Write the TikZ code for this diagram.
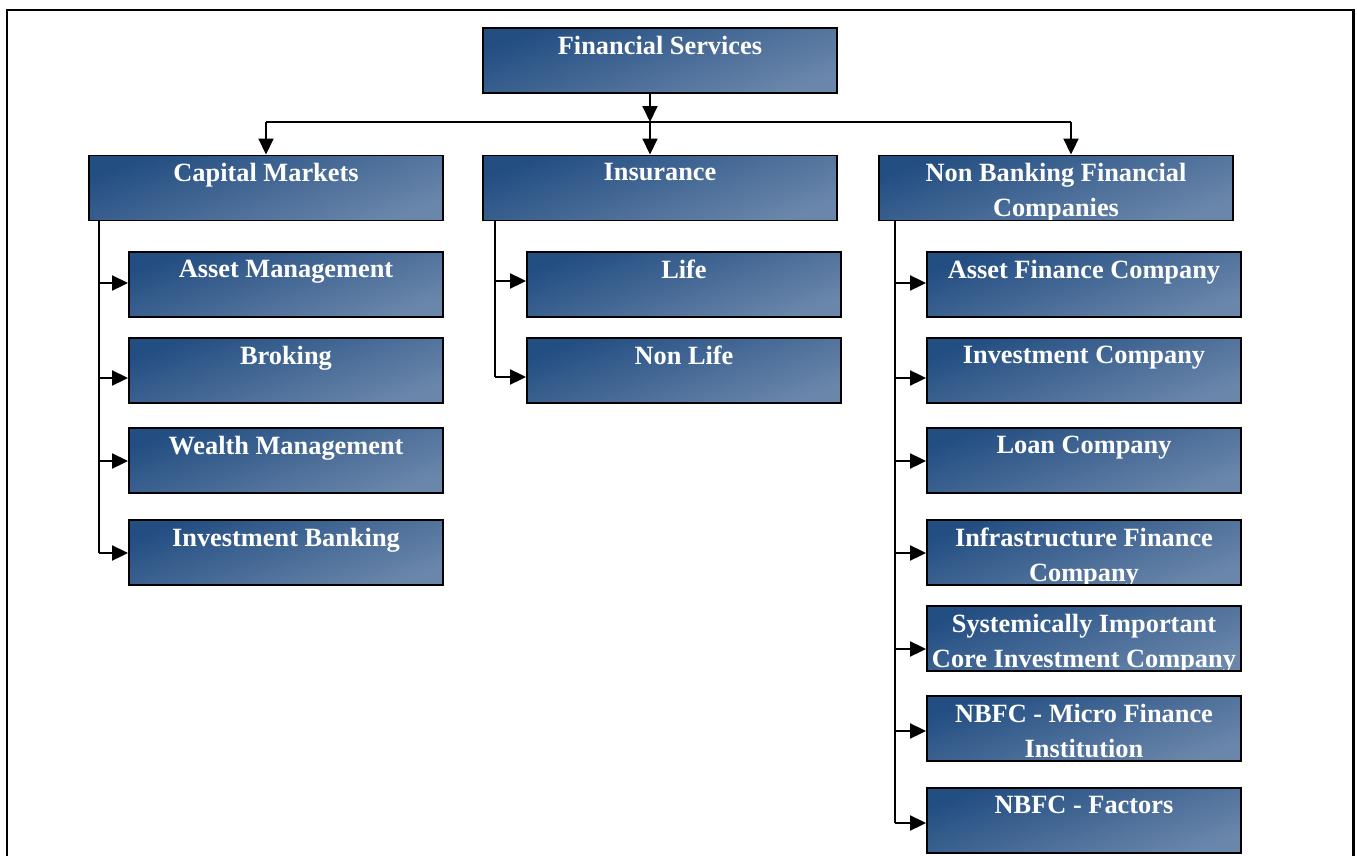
\documentclass[tikz,border=0pt]{standalone}
\usepackage{fontspec}
\setmainfont{Liberation Serif}
\usepackage{tikz}
\usetikzlibrary{arrows.meta}

\definecolor{boxdark}{RGB}{35,78,130}
\definecolor{boxlight}{RGB}{106,134,170}
\newcommand{\chartfont}{\fontsize{15}{19.8}\selectfont\bfseries}

\begin{document}
\begin{tikzpicture}[x=0.02cm, y=-0.02cm,
	box/.style={draw, line width=1.1pt, minimum height=1.3cm, inner sep=0pt,
		top color=boxdark, bottom color=boxlight, shading angle=20,
		path picture={\node[anchor=north, inner sep=0pt, minimum width=0pt, minimum height=0pt,
			text=white, align=center, font=\chartfont]
			at ([yshift=-0.14cm]path picture bounding box.north) {#1};}},
	mainbox/.style={box={#1}, minimum width=7.08cm},
	subbox/.style={box={#1}, minimum width=6.28cm},
	wire/.style={line width=1.1pt},
	link/.style={wire, -{Triangle[length=0.32cm, width=0.3cm]}}]

		\useasboundingbox (0,0) rectangle (1357,856);
		\draw[line width=1.7pt] (7,856) -- (7,10) -- (1353,10) -- (1353,856); % frame

		\begin{scope}
			\node[mainbox={Financial Services}] (fs) at (660,60.5) {};

			\node[mainbox={Capital Markets}] (cap) at (266,188) {};
			\node[mainbox={Insurance}] (ins) at (660,188) {};
			\node[mainbox={Non Banking Financial\\Companies}] (nbfc) at (1056,188) {};

			\node[subbox={Asset Management}] (am) at (286,284.5) {};
			\node[subbox={Broking}] (brk) at (286,370.5) {};
			\node[subbox={Wealth Management}] (wm) at (286,460.5) {};
			\node[subbox={Investment Banking}] (ib) at (286,552.5) {};

			\node[subbox={Life}] (life) at (684,284.5) {};
			\node[subbox={Non Life}] (nlife) at (684,370.5) {};

			\node[subbox={Asset Finance Company}] (afc) at (1084,284.5) {};
			\node[subbox={Investment Company}] (ic) at (1084,370.5) {};
			\node[subbox={Loan Company}] (lc) at (1084,460.5) {};
			\node[subbox={Infrastructure Finance\\Company}] (ifc) at (1084,552.5) {};
			\node[subbox={Systemically Important\\Core Investment Company}] (sic) at (1084,638.5) {};
			\node[subbox={NBFC - Micro Finance\\Institution}] (mfi) at (1084,728.5) {};
			\node[subbox={NBFC - Factors}] (fac) at (1084,820.5) {};

			\coordinate (split) at (650,122);
			\coordinate (nbfcin) at (1071,122);
			\draw[link] (fs.south -| split) -- (split); % top to bus
			\draw[wire] (cap.north |- split) -- (nbfcin); % bus
			\draw[link] (cap.north |- split) -- (cap.north);
			\draw[link] (split) -- (split |- ins.north);
			\draw[link] (nbfcin) -- (nbfcin |- nbfc.north);

			\coordinate (capT) at (99,220);
			\draw[wire] (capT) -- (99,553); % trunk capital markets
			\draw[link] (capT |- 0,283) -- (am.west |- 0,283);
			\draw[link] (capT |- 0,378) -- (brk.west |- 0,378);
			\draw[link] (capT |- 0,461) -- (wm.west |- 0,461);
			\draw[link] (capT |- 0,553) -- (ib.west |- 0,553);

			\coordinate (insT) at (495,220);
			\draw[wire] (insT) -- (495,377); % trunk insurance
			\draw[link] (insT |- 0,281) -- (life.west |- 0,281);
			\draw[link] (insT |- 0,377) -- (nlife.west |- 0,377);

			\coordinate (nbfcT) at (895,220);
			\draw[wire] (nbfcT) -- (895,823); % trunk nbfc
			\draw[link] (nbfcT |- 0,283) -- (afc.west |- 0,283);
			\draw[link] (nbfcT |- 0,378) -- (ic.west |- 0,378);
			\draw[link] (nbfcT |- 0,461) -- (lc.west |- 0,461);
			\draw[link] (nbfcT |- 0,553) -- (ifc.west |- 0,553);
			\draw[link] (nbfcT |- 0,649) -- (sic.west |- 0,649);
			\draw[link] (nbfcT |- 0,731) -- (mfi.west |- 0,731);
			\draw[link] (nbfcT |- 0,823) -- (fac.west |- 0,823);

		\end{scope}
	\end{tikzpicture}
\end{document}
